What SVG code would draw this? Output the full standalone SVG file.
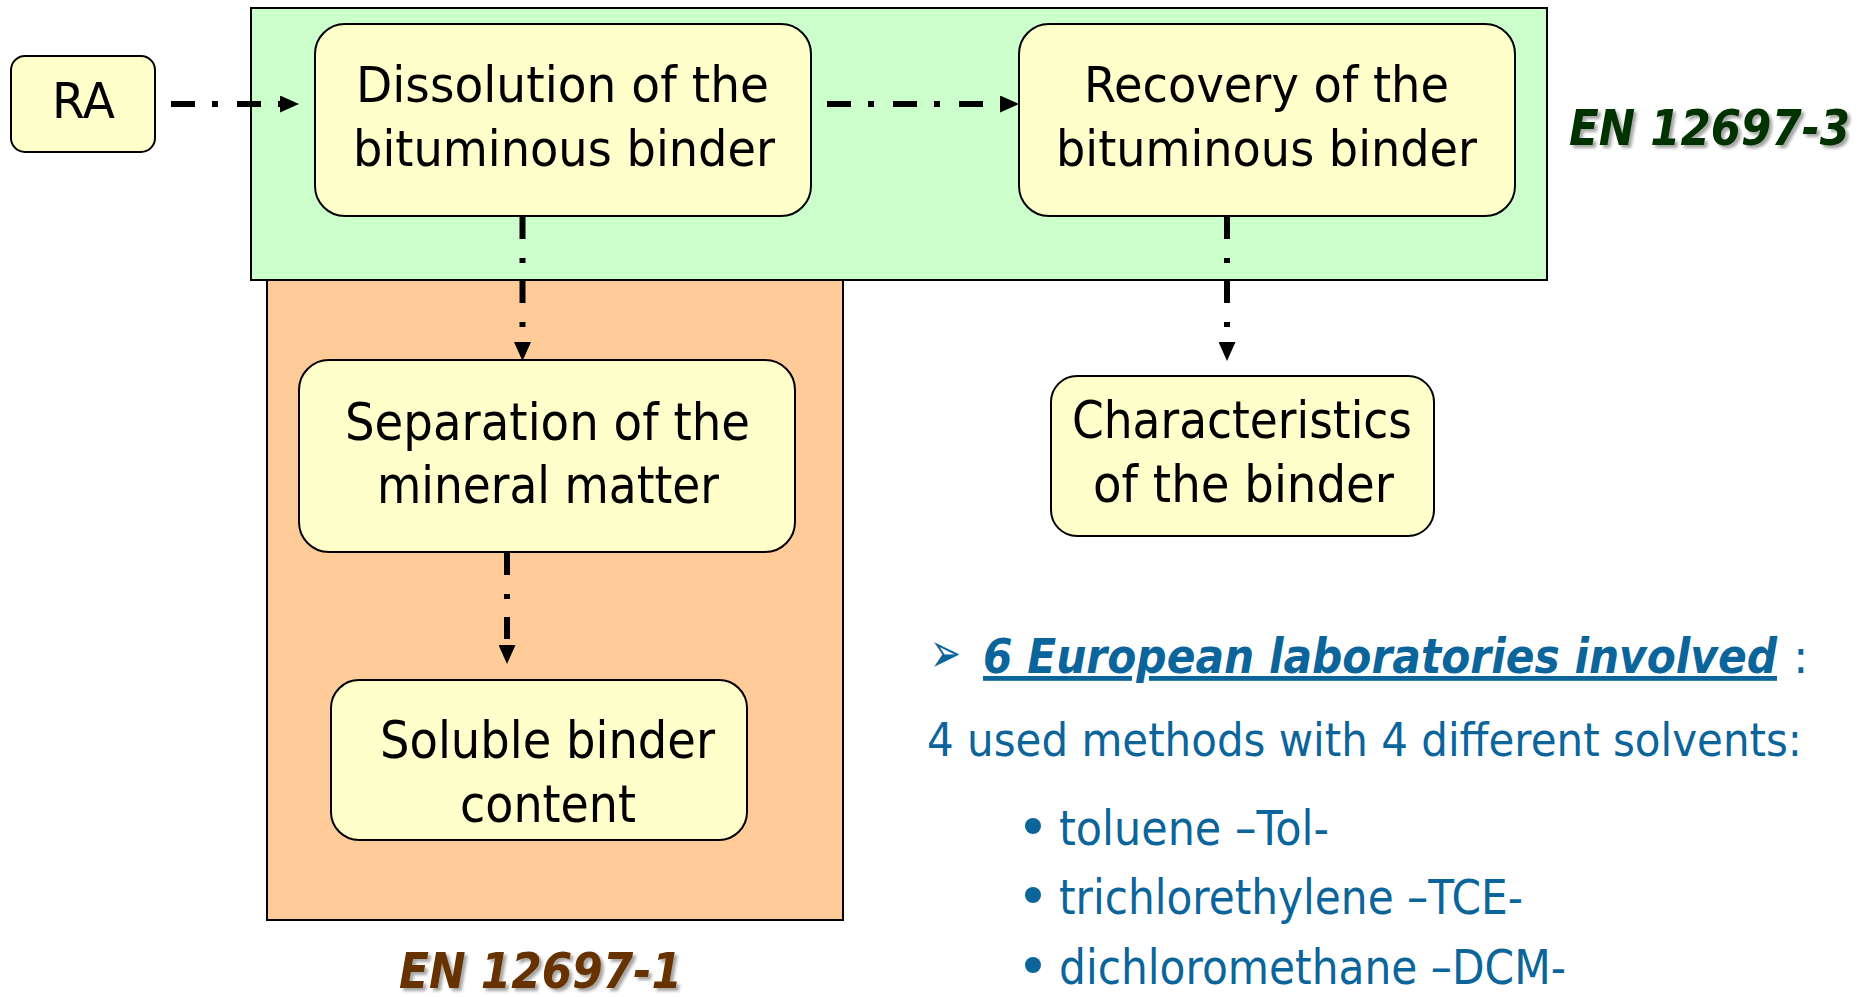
<svg xmlns="http://www.w3.org/2000/svg" width="1862" height="997" viewBox="0 0 1862 997">
  <style>
    .box { fill: #ffffcc; stroke: #000; stroke-width: 2; }
    .lbl { font-family: "DejaVu Sans", Verdana, sans-serif; fill: #000; }
    .blue { font-family: "DejaVu Sans", Verdana, sans-serif; fill: #0b659b; }
    .conn { fill: none; stroke: #000; stroke-width: 6; }
    .h { stroke-dasharray: 24 17 6 19; }
    .v { stroke-dasharray: 22 19 5 18; }
    .std { font-family: "DejaVu Sans", Verdana, sans-serif; font-weight: bold; font-style: italic; font-size: 50px; }
  </style>
  <defs>
    <marker id="ah" markerUnits="userSpaceOnUse" markerWidth="19" markerHeight="17" refX="0" refY="8.5" orient="auto">
      <path d="M0,0 L19,8.5 L0,17 z" fill="#000"/>
    </marker>
    <filter id="sh" x="-10%" y="-30%" width="130%" height="170%">
      <feDropShadow dx="3" dy="3" stdDeviation="1.5" flood-color="#000" flood-opacity="0.35"/>
    </filter>
  </defs>

  <g id="en12697-1-area">
    <rect x="267" y="280" width="576" height="640" fill="#ffcc99" stroke="#000" stroke-width="2"/>
  </g>
  <g id="en12697-3-area">
    <rect x="251" y="8" width="1296" height="272" fill="#ccffcc" stroke="#000" stroke-width="2"/>
  </g>

  <g id="connectors">
    <path class="conn h" d="M171,104 H280" marker-end="url(#ah)"/>
    <path class="conn h" d="M827,104 H1000" marker-end="url(#ah)"/>
    <path class="conn v" d="M522.5,217 V342" marker-end="url(#ah)"/>
    <path class="conn v" d="M1227,217 V342" marker-end="url(#ah)"/>
    <path class="conn v" d="M507,553 V645" marker-end="url(#ah)"/>
  </g>

  <g id="node-ra">
    <rect class="box" x="11" y="56" width="144" height="96" rx="14"/>
    <text class="lbl" x="52" y="118" font-size="50" textLength="63" lengthAdjust="spacingAndGlyphs">RA</text>
  </g>
  <g id="node-dissolution">
    <rect class="box" x="315" y="24" width="496" height="192" rx="30"/>
    <text class="lbl" x="356" y="102" font-size="50" textLength="413" lengthAdjust="spacingAndGlyphs">Dissolution of the</text>
    <text class="lbl" x="353" y="166" font-size="50" textLength="422" lengthAdjust="spacingAndGlyphs">bituminous binder</text>
  </g>
  <g id="node-recovery">
    <rect class="box" x="1019" y="24" width="496" height="192" rx="30"/>
    <text class="lbl" x="1084" y="102" font-size="50" textLength="365" lengthAdjust="spacingAndGlyphs">Recovery of the</text>
    <text class="lbl" x="1056" y="166" font-size="50" textLength="421" lengthAdjust="spacingAndGlyphs">bituminous binder</text>
  </g>
  <g id="node-separation">
    <rect class="box" x="299" y="360" width="496" height="192" rx="30"/>
    <text class="lbl" x="345" y="440" font-size="52" textLength="405" lengthAdjust="spacingAndGlyphs">Separation of the</text>
    <text class="lbl" x="377" y="503" font-size="52" textLength="342" lengthAdjust="spacingAndGlyphs">mineral matter</text>
  </g>
  <g id="node-soluble">
    <rect class="box" x="331" y="680" width="416" height="160" rx="28"/>
    <text class="lbl" x="380" y="758" font-size="52" textLength="335" lengthAdjust="spacingAndGlyphs">Soluble binder</text>
    <text class="lbl" x="460" y="822" font-size="52" textLength="176" lengthAdjust="spacingAndGlyphs">content</text>
  </g>
  <g id="node-characteristics">
    <rect class="box" x="1051" y="376" width="383" height="160" rx="26"/>
    <text class="lbl" x="1072" y="438" font-size="52" textLength="340" lengthAdjust="spacingAndGlyphs">Characteristics</text>
    <text class="lbl" x="1093" y="502" font-size="52" textLength="301" lengthAdjust="spacingAndGlyphs">of the binder</text>
  </g>

  <g id="label-en12697-3">
    <text class="std" x="1569" y="145" fill="#003300" filter="url(#sh)" textLength="281" lengthAdjust="spacingAndGlyphs">EN 12697-3</text>
  </g>
  <g id="label-en12697-1">
    <text class="std" x="399" y="988" fill="#663300" filter="url(#sh)" textLength="283" lengthAdjust="spacingAndGlyphs">EN 12697-1</text>
  </g>

  <g id="notes">
    <text class="blue" x="930" y="672" font-size="56" textLength="31" lengthAdjust="spacingAndGlyphs">➢</text>
    <text class="blue" x="983" y="673" font-size="48" font-weight="bold" font-style="italic" text-decoration="underline" textLength="794" lengthAdjust="spacingAndGlyphs">6 European laboratories involved</text>
    <text class="blue" x="1793" y="673" font-size="46">:</text>
    <text class="blue" x="927" y="756" font-size="46" textLength="875" lengthAdjust="spacingAndGlyphs">4 used methods with 4 different solvents:</text>
    <circle cx="1033" cy="826" r="8" fill="#0b659b"/>
    <text class="blue" x="1059" y="845" font-size="48" textLength="270" lengthAdjust="spacingAndGlyphs">toluene –Tol-</text>
    <circle cx="1033" cy="895" r="8" fill="#0b659b"/>
    <text class="blue" x="1059" y="914" font-size="48" textLength="464" lengthAdjust="spacingAndGlyphs">trichlorethylene –TCE-</text>
    <circle cx="1033" cy="965" r="8" fill="#0b659b"/>
    <text class="blue" x="1059" y="984" font-size="48" textLength="507" lengthAdjust="spacingAndGlyphs">dichloromethane –DCM-</text>
  </g>
</svg>
